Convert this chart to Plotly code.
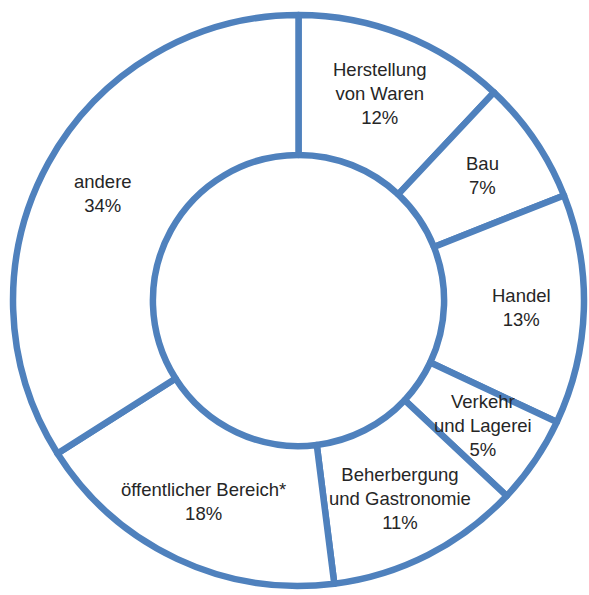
import math
import plotly.graph_objects as go

labels = ["Herstellung<br>von Waren", "Bau", "Handel", "Verkehr<br>und Lagerei",
          "Beherbergung<br>und Gastronomie", "öffentlicher Bereich*", "andere"]
values = [12, 7, 13, 5, 11, 18, 34]

W, H = 589, 595
dom_x = [0.0221, 0.9915]
dom_y = [0.0151, 0.9748]

fig = go.Figure(go.Pie(
    labels=labels,
    values=values,
    sort=False,
    direction="clockwise",
    rotation=0,
    hole=0.51,
    marker=dict(colors=["white"] * len(values), line=dict(color="#4F81BD", width=6.5)),
    textinfo="none",
    showlegend=False,
    hoverinfo="skip",
    domain=dict(x=dom_x, y=dom_y),
))

# label positions derived from the data (mid-angle of each slice, mid-ring radius)
cx = (dom_x[0] + dom_x[1]) / 2
cy = (dom_y[0] + dom_y[1]) / 2
R = min((dom_x[1] - dom_x[0]) * W, (dom_y[1] - dom_y[0]) * H) / 2
r = 0.78 * R
total = sum(values)
cum = 0
for lab, v in zip(labels, values):
    theta = 2 * math.pi * (cum + v / 2) / total
    cum += v
    fig.add_annotation(
        x=cx + r * math.sin(theta) / W,
        y=cy + r * math.cos(theta) / H,
        xref="paper", yref="paper",
        text=f"{lab}<br>{v}%",
        showarrow=False,
        xanchor="center", yanchor="middle", align="center",
        font=dict(family="Liberation Sans, Arial, sans-serif", size=18.5, color="#262626"),
    )

fig.update_layout(
    width=W, height=H,
    margin=dict(l=0, r=0, t=0, b=0),
    paper_bgcolor="white",
    plot_bgcolor="white",
)

fig.write_html("out.html")
